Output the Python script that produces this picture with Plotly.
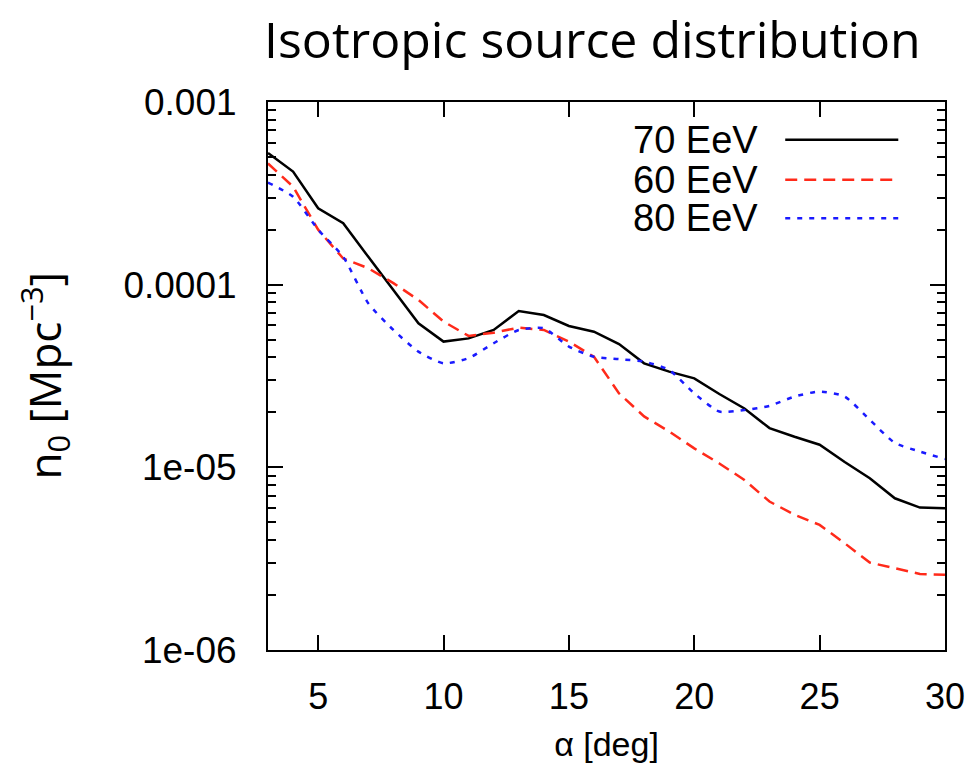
import plotly.graph_objects as go

alpha = list(range(3, 31))
n70 = [5.26e-4, 4.16e-4, 2.62e-4, 2.17e-4, 1.42e-4, 9.35e-5, 6.15e-5, 4.88e-5, 5.08e-5, 5.65e-5,
       7.18e-5, 6.82e-5, 5.94e-5, 5.53e-5, 4.73e-5, 3.71e-5, 3.34e-5, 3.07e-5, 2.52e-5, 2.10e-5,
       1.64e-5, 1.47e-5, 1.33e-5, 1.07e-5, 8.71e-6, 6.77e-6, 6.02e-6, 5.97e-6]
n60 = [4.61e-4, 3.44e-4, 2.0e-4, 1.39e-4, 1.23e-4, 1.02e-4, 8.25e-5, 6.28e-5, 5.24e-5, 5.46e-5,
       5.82e-5, 5.65e-5, 4.88e-5, 4.03e-5, 2.54e-5, 1.90e-5, 1.57e-5, 1.27e-5, 1.05e-5, 8.53e-6,
       6.5e-6, 5.5e-6, 4.84e-6, 3.84e-6, 3.01e-6, 2.81e-6, 2.61e-6, 2.58e-6]
n80 = [3.62e-4, 3.03e-4, 2.0e-4, 1.42e-4, 7.9e-5, 5.65e-5, 4.3e-5, 3.71e-5, 3.96e-5, 4.78e-5,
       5.65e-5, 5.77e-5, 4.58e-5, 4.03e-5, 3.91e-5, 3.79e-5, 3.41e-5, 2.54e-5, 2.02e-5, 2.06e-5,
       2.17e-5, 2.44e-5, 2.60e-5, 2.44e-5, 1.82e-5, 1.36e-5, 1.22e-5, 1.11e-5]

series = [
    ("70 EeV", n70, "black", "solid", "linear"),
    ("60 EeV", n60, "#ff2a1a", "12px,7px", "linear"),
    ("80 EeV", n80, "#1a1aff", "5px,7px", "spline"),
]

x_ticks = [5, 10, 15, 20, 25, 30]
y_ticks = [1e-3, 1e-4, 1e-5, 1e-6]
y_ticktext = ["0.001", "0.0001", "1e-05", "1e-06"]
minor_vals = [m * 10.0 ** e for e in range(-6, -3) for m in range(2, 10)]

fig = go.Figure()
for name, ys, col, dash, shape in series:
    fig.add_trace(go.Scatter(x=alpha, y=ys, mode="lines", name=name, showlegend=False,
                             line=dict(color=col, width=2.5, dash=dash, shape=shape,
                                       smoothing=0.6 if shape == "spline" else None)))

# manual legend (text on the left, line sample on the right)
leg_y = [0.931, 0.858, 0.788]
for (name, ys, col, dash, shape), yy in zip(series, leg_y):
    fig.add_annotation(xref="paper", yref="paper", x=0.727, y=yy, text=name, showarrow=False,
                       xanchor="right", yanchor="middle",
                       font=dict(family="Liberation Sans, Arial", size=38, color="black"))
    fig.add_shape(type="line", xref="paper", yref="paper", x0=0.764, x1=0.931, y0=yy, y1=yy,
                  line=dict(color=col, width=2.5, dash=dash))

fig.add_annotation(xref="paper", yref="paper", x=-0.33, y=0.5,
                   text="n<sub>0</sub> [Mpc<sup>−3</sup>]", textangle=-90, showarrow=False,
                   xanchor="center", yanchor="middle",
                   font=dict(family="Open Sans, Noto Sans", size=44, color="black"))

fig.update_layout(
    width=976, height=770,
    margin=dict(l=268, r=31, t=102, b=120),
    paper_bgcolor="white", plot_bgcolor="white",
    title=dict(text="Isotropic source distribution", x=0.607, xanchor="center",
               y=0.948, yanchor="middle",
               font=dict(family="Open Sans, Noto Sans", size=50, color="black")),
    font=dict(family="Liberation Sans, Arial", size=36, color="black"),
)
fig.update_xaxes(range=[3, 30], tickvals=x_ticks, ticks="inside", ticklen=15, tickwidth=2,
                 tickcolor="black", showline=True, linecolor="black", linewidth=2, mirror="ticks",
                 showgrid=False, zeroline=False, ticklabelstandoff=14,
                 tickfont=dict(size=36),
                 title=dict(text="α [deg]", font=dict(size=34), standoff=16))
fig.update_yaxes(type="log", range=[-6, -3], tickvals=y_ticks, ticktext=y_ticktext,
                 ticks="inside", ticklen=15, tickwidth=2, tickcolor="black",
                 showline=True, linecolor="black", linewidth=2, mirror="ticks",
                 showgrid=False, zeroline=False, ticklabelstandoff=22,
                 tickfont=dict(size=37),
                 minor=dict(tickvals=minor_vals, ticks="inside", ticklen=8, tickwidth=2,
                            tickcolor="black", showgrid=False))

fig.write_html("out.html")
